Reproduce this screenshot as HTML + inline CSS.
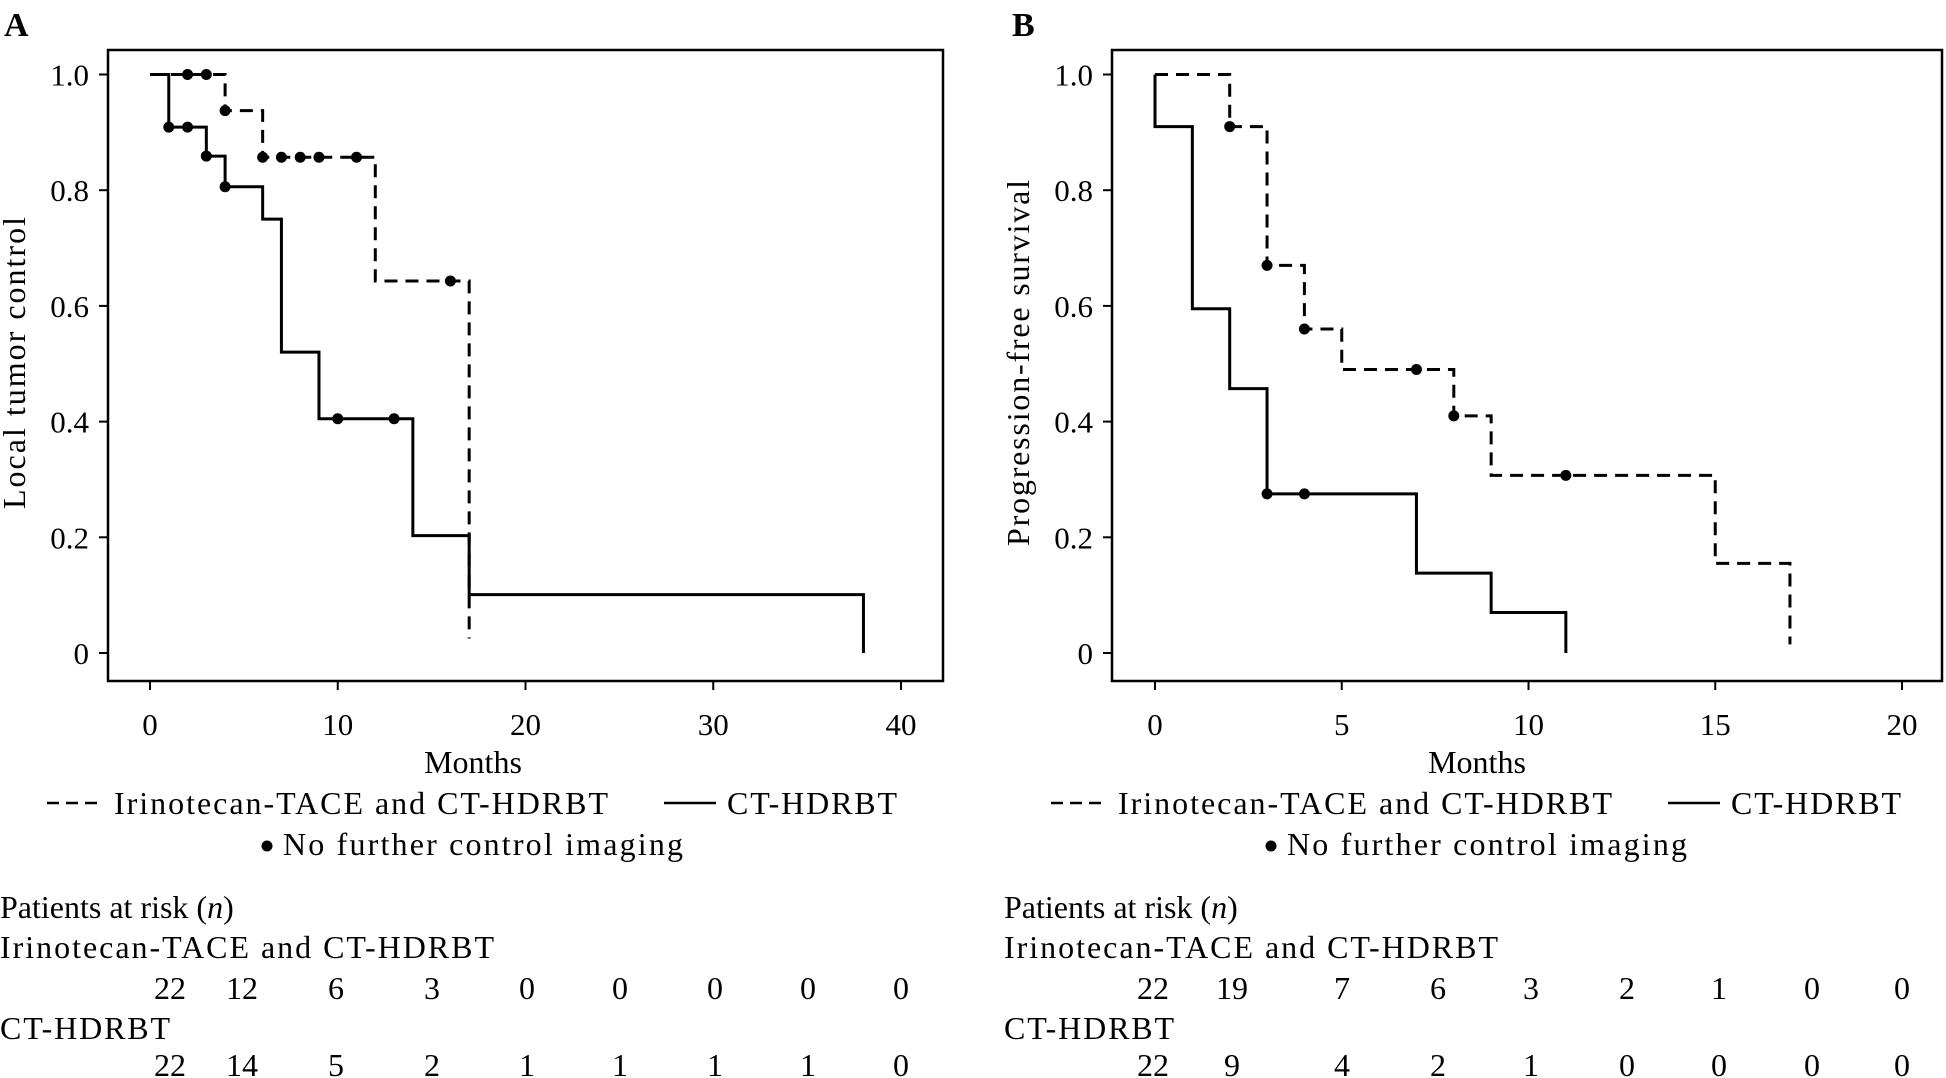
<!DOCTYPE html>
<html><head><meta charset="utf-8"><style>
html,body{margin:0;padding:0;background:#fff;}
svg{display:block;font-family:"Liberation Serif",serif;}
</style></head><body>
<svg id="fig" width="1946" height="1078" viewBox="0 0 1946 1078">
<text x="4" y="36" font-size="34" font-weight="bold">A</text>
<text x="1012" y="36" font-size="34" font-weight="bold">B</text>
<g id="panels"></g>
</svg>
<script>
// Panel A data
const aTicksX = [0,10,20,30,40];
const aTrtT = [0,4,6,12,17];      const aTrtS = [1.0,0.9375,0.857,0.643,0.025];
const aCtrlT = [0,1,3,4,6,7,9,14,17,38]; const aCtrlS = [1.0,0.909,0.859,0.806,0.75,0.52,0.405,0.203,0.101,0.0];
const aTrtCensT = [2,3,4,6,7,8,9,11,16];
const aCtrlCensT = [1,2,3,4,10,13];
const aRiskTrt = [22,12,6,3,0,0,0,0,0];
const aRiskCtrl = [22,14,5,2,1,1,1,1,0];
// Panel B data
const bTicksX = [0,5,10,15,20];
const bTrtT = [0,2,3,4,5,8,9,15,17]; const bTrtS = [1.0,0.91,0.67,0.56,0.49,0.41,0.307,0.155,0.015];
const bCtrlT = [0,0,1,2,3,7,9,11];   const bCtrlS = [1.0,0.91,0.595,0.457,0.275,0.138,0.07,0.0];
const bTrtCensT = [2,3,4,7,8,11];
const bCtrlCensT = [3,4];
const bRiskTrt = [22,19,7,6,3,2,1,0,0];
const bRiskCtrl = [22,9,4,2,1,0,0,0,0];
const yTicks = [0,0.2,0.4,0.6,0.8,1.0];
const yTickLabels = ["0","0.2","0.4","0.6","0.8","1.0"];

const NS="http://www.w3.org/2000/svg";
const root=document.getElementById('panels');
function mk(tag,attrs,parent){const e=document.createElementNS(NS,tag);for(const k in attrs)e.setAttribute(k,attrs[k]);(parent||root).appendChild(e);return e;}
function txt(x,y,s,size,anchor,parent){const e=mk('text',{x:x,y:y,'font-size':size,'text-anchor':anchor||'start'},parent);e.textContent=s;return e;}
function survAt(T,S,t){let v=S[0];for(let i=0;i<T.length;i++){if(T[i]<=t)v=S[i];}return v;}

function panel(p){
  const g=mk('g',{});
  
  
  const X=t=>p.x0+(t-p.xmin)/(p.xmax-p.xmin)*(p.x1-p.x0);
  const Y=s=>653-s*(653-74.5);
  const box=mk('rect',{x:p.bx0,y:50,width:p.bx1-p.bx0,height:631,fill:'none',stroke:'#000','stroke-width':2.5},g);
  
  
  p.ticks.forEach(t=>{
    mk('line',{x1:X(t),x2:X(t),y1:681,y2:690,stroke:'#000','stroke-width':2},g);
    const l=txt(X(t),735,String(t),31,'middle',g);
    
    
  });
  yTicks.forEach((v,i)=>{
    mk('line',{x1:p.bx0-9,x2:p.bx0,y1:Y(v),y2:Y(v),stroke:'#000','stroke-width':2},g);
    const l=txt(p.bx0-19,Y(v)+11,yTickLabels[i],31,'end',g);
    
    
  });
  const xt=txt(p.mx,773,'Months',32,'middle',g);
  
  
  const yt=txt(0,0,p.ylab,32,'middle',g);
  yt.setAttribute('transform','translate('+p.ylx+',363) rotate(-90)');
  yt.setAttribute('textLength',p.yll);
  
  
  function step(T,S,dash,name){
    let d='M'+X(T[0])+','+Y(S[0]);
    for(let i=1;i<T.length;i++){d+=' H'+X(T[i])+' V'+Y(S[i]);}
    const a={d:d,fill:'none',stroke:'#000','stroke-width':3};
    if(dash)a['stroke-dasharray']='13,8';
    const e=mk('path',a,g);
    
    
  }
  step(p.tT,p.tS,true,'irinotecan-curve');
  step(p.cT,p.cS,false,'ct-hdrbt-curve');
  p.tC.forEach(t=>{const c=mk('circle',{cx:X(t),cy:Y(survAt(p.tT,p.tS,t)),r:5.5,fill:'#000'},g);
    
    });
  p.cC.forEach(t=>{const c=mk('circle',{cx:X(t),cy:Y(survAt(p.cT,p.cS,t)),r:5.5,fill:'#000'},g);
    
    });
  const o=p.lo;
  const lg=mk('g',{},g);
  
  
  mk('line',{x1:o+47,x2:o+103,y1:803,y2:803,stroke:'#000','stroke-width':2.5,'stroke-dasharray':'12,7'},lg);
  txt(o+114,814,'Irinotecan-TACE and CT-HDRBT',32,'start',lg).setAttribute('textLength','494');
  mk('line',{x1:o+664,x2:o+716,y1:803,y2:803,stroke:'#000','stroke-width':2.5},lg);
  txt(o+727,814,'CT-HDRBT',32,'start',lg).setAttribute('textLength','170');
  mk('circle',{cx:o+267,cy:846,r:5.5,fill:'#000'},lg);
  txt(o+283,855,'No further control imaging',32,'start',lg).setAttribute('textLength','400');
  const rt=mk('g',{},g);
  
  
  const h=txt(o,918,'Patients at risk (',32,'start',rt);
  const it=mk('tspan',{'font-style':'italic'},h);it.textContent='n';
  const cl=mk('tspan',{},h);cl.textContent=')';
  txt(o,958,'Irinotecan-TACE and CT-HDRBT',32,'start',rt).setAttribute('textLength','494');
  txt(o,1039,'CT-HDRBT',32,'start',rt).setAttribute('textLength','170');
  p.rx.forEach((x,i)=>{
    const a=txt(x,999,String(p.rT[i]),32,'middle',rt);
    
    
    const b=txt(x,1078-2,String(p.rC[i]),32,'middle',rt);
    
    
  });
}
panel({name:'panel-a',bx0:108,bx1:943,x0:150,x1:901,xmin:0,xmax:40,ticks:aTicksX,ylab:'Local tumor control',ylx:25,yll:292,mx:473,
  tT:aTrtT,tS:aTrtS,cT:aCtrlT,cS:aCtrlS,tC:aTrtCensT,cC:aCtrlCensT,lo:0,
  rx:[170,242,336,432,527,620,715,808,901],rT:aRiskTrt,rC:aRiskCtrl});
panel({name:'panel-b',bx0:1112,bx1:1942,x0:1155,x1:1902,xmin:0,xmax:20,ticks:bTicksX,ylab:'Progression-free survival',ylx:1029,yll:366,mx:1477,
  tT:bTrtT,tS:bTrtS,cT:bCtrlT,cS:bCtrlS,tC:bTrtCensT,cC:bCtrlCensT,lo:1004,
  rx:[1153,1232,1342,1438,1531,1627,1719,1812,1902],rT:bRiskTrt,rC:bRiskCtrl});
</script>
</body></html>
